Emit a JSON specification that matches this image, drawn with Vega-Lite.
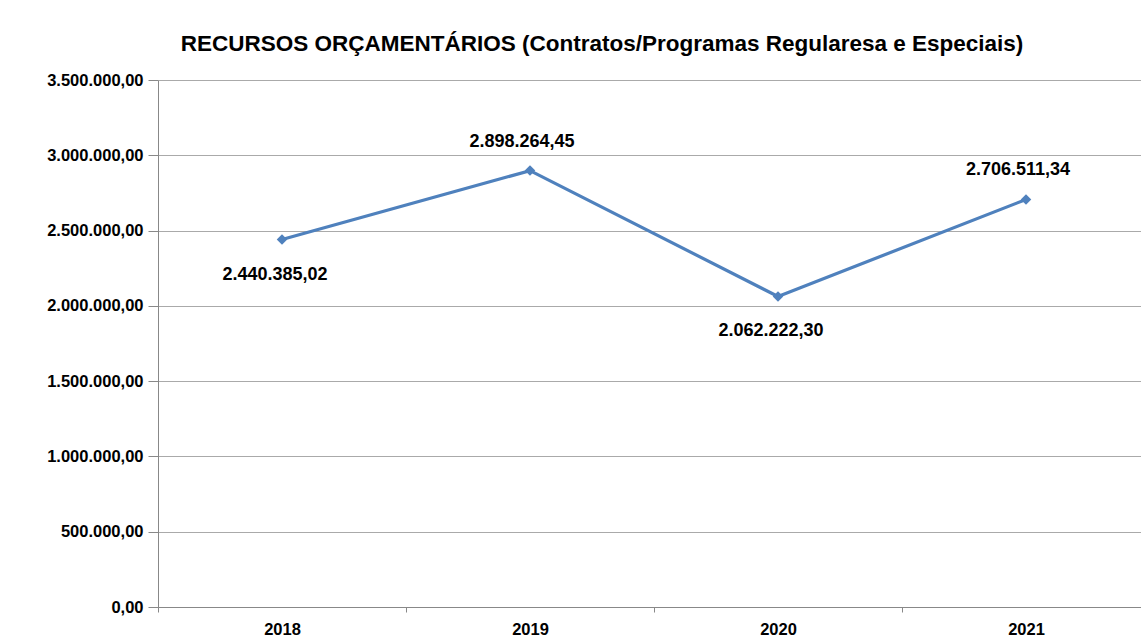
{
  "$schema": "https://vega.github.io/schema/vega-lite/v6.json",
  "autosize": "none",
  "width": 992,
  "height": 527,
  "padding": {"left": 158, "top": 80, "right": 0, "bottom": 35},
  "background": "white",
  "config": {
    "locale": {"number": {"decimal": ",", "thousands": ".", "grouping": [3], "currency": ["R$", ""]}},
    "font": "Liberation Sans",
    "view": {"stroke": null}
  },
  "title": {
    "text": "RECURSOS ORÇAMENTÁRIOS (Contratos/Programas Regularesa e Especiais)",
    "font": "Liberation Sans",
    "fontSize": 22.5,
    "fontWeight": "bold",
    "color": "#000000",
    "anchor": "middle",
    "frame": "group",
    "dx": -52,
    "offset": 17
  },
  "data": {"values": [
    {"ano": "2018", "valor": 2440385.02},
    {"ano": "2019", "valor": 2898264.45},
    {"ano": "2020", "valor": 2062222.30},
    {"ano": "2021", "valor": 2706511.34}
  ]},
  "encoding": {
    "x": {"field": "ano", "type": "ordinal", "scale": {"paddingInner": 0, "paddingOuter": 0},
      "axis": {"title": null, "labelAngle": 0, "labelFontWeight": "bold", "labelFontSize": 16.5, "labelColor": "#000",
        "labelPadding": 9, "domainColor": "#888", "tickColor": "#888", "tickSize": 5, "tickBand": "extent", "grid": false}},
    "y": {"field": "valor", "type": "quantitative", "scale": {"domain": [0, 3500000]},
      "axis": {"title": null, "values": [0, 500000, 1000000, 1500000, 2000000, 2500000, 3000000, 3500000],
        "format": ",.2f", "labelFontWeight": "bold", "labelFontSize": 16.5, "labelColor": "#000", "labelPadding": 5,
        "domainColor": "#888", "tickColor": "#888", "tickSize": 10, "gridColor": "#aaa", "gridWidth": 1}}
  },
  "layer": [
    {"mark": {"type": "line", "color": "#4F81BD", "strokeWidth": 3.2}},
    {"mark": {"type": "point", "shape": "diamond", "filled": true, "color": "#4F81BD", "size": 110, "opacity": 1}},
    {"transform": [{"filter": "datum.ano == '2019' || datum.ano == '2021'"}],
      "mark": {"type": "text", "dy": -29, "dx": -8, "fontSize": 18, "fontWeight": "bold", "color": "#000"},
      "encoding": {"text": {"field": "valor", "type": "quantitative", "format": ",.2f"}}},
    {"transform": [{"filter": "datum.ano == '2018' || datum.ano == '2020'"}],
      "mark": {"type": "text", "dy": 35, "dx": -7, "fontSize": 18, "fontWeight": "bold", "color": "#000"},
      "encoding": {"text": {"field": "valor", "type": "quantitative", "format": ",.2f"}}}
  ]
}
